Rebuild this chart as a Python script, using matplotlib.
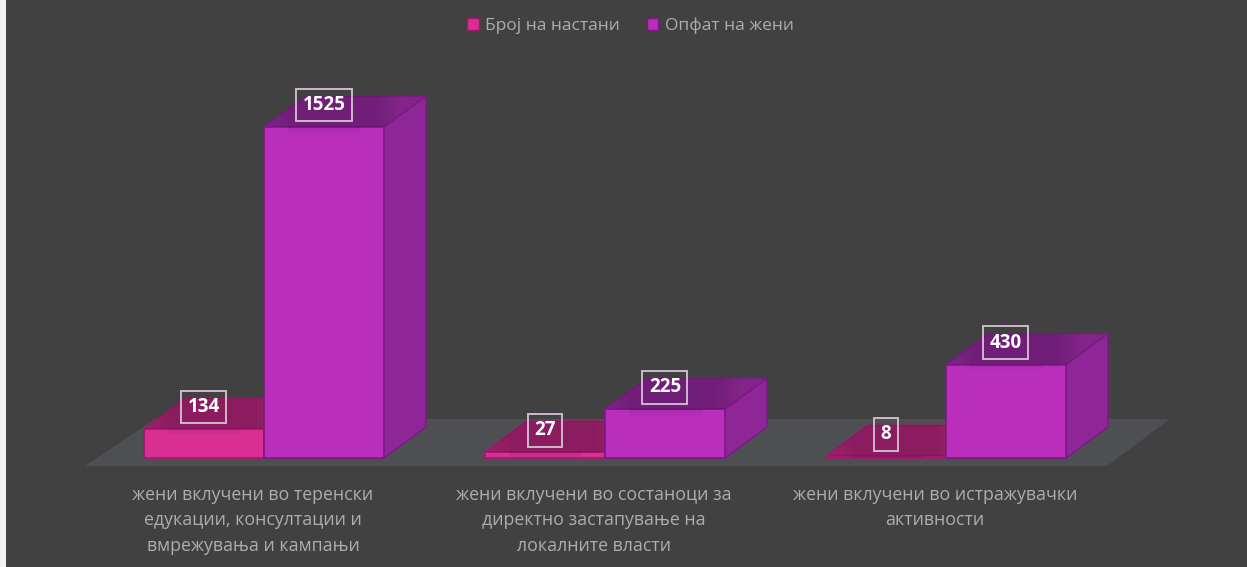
import matplotlib

matplotlib.use("Agg")
import matplotlib.pyplot as plt
from matplotlib.patches import Polygon, Rectangle


CATEGORIES = [
    "жени вклучени во теренски\nедукации, консултации и\nвмрежувања и кампањи",
    "жени вклучени во состаноци за\nдиректно застапување на\nлокалните власти",
    "жени вклучени во истражувачки\nактивности",
]
SERIES_NAMES = ["Број на настани", "Опфат на жени"]
EVENTS = [134, 27, 8]
WOMEN = [1525, 225, 430]

BG = "#414141"
FLOOR = "#4e4f52"
TEXT = "#adadad"
PINK = {"front": "#d92f93", "top": "#a02270", "side": "#9c1f6c", "edge": "#a0186c"}
PURPLE = {"front": "#b92fbc", "top": "#82248a", "side": "#8f2698", "edge": "#7b1a85"}

# one x unit is one category spacing, y is in chart values
BAR_W = 0.352
DX = 0.123
DY = 143


def draw_bar(ax, x, value, colors):
    edge = colors["edge"]
    top = [(x, value), (x + BAR_W, value), (x + BAR_W + DX, value + DY), (x + DX, value + DY)]
    side = [(x + BAR_W, 0), (x + BAR_W + DX, DY), (x + BAR_W + DX, value + DY), (x + BAR_W, value)]
    ax.add_patch(Polygon(side, fc=colors["side"], ec=edge, lw=1.0, joinstyle="round"))
    top_patch = Polygon(top, fc=colors["top"], ec=edge, lw=1.0, joinstyle="round")
    ax.add_patch(top_patch)
    front = Rectangle((x, 0), BAR_W, value, fc=colors["front"], ec=edge, lw=1.2)
    ax.add_patch(front)

    # soft shadow the label throws on the bar
    for k in range(6):
        grow = k * 0.012
        shade = Rectangle(
            (x + 0.07 - grow, value - 20 - k * 12),
            BAR_W - 0.09 + 2 * grow,
            DY + 20 + 2 * k * 12,
            fc="black", ec="none", alpha=0.018, zorder=front.get_zorder(),
        )
        ax.add_patch(shade)
        shade.set_clip_path(top_patch)
    for k in range(3):
        shade = Rectangle(
            (x + 0.07, value - 30 + k * 9), BAR_W - 0.14, 30 - k * 9,
            fc="black", ec="none", alpha=0.02,
        )
        ax.add_patch(shade)
        shade.set_clip_path(front)


def value_label(ax, x, value, text):
    ax.text(
        x + BAR_W / 2,
        value + 101,
        text,
        ha="center",
        va="center",
        color="white",
        fontsize=13.5,
        fontweight="bold",
        family="Open Sans",
        zorder=6,
        bbox=dict(boxstyle="square,pad=0.34", fc="none", ec="#cdb9cd", lw=1.4),
    )


def main():
    fig = plt.figure(figsize=(12.47, 5.67), dpi=100, facecolor=BG)
    ax = fig.add_axes([0, 0, 1, 1])
    ax.set_xlim(-0.774, 2.883)
    ax.set_ylim(-502, 2110)
    ax.axis("off")

    # floor
    ax.add_patch(Polygon(
        [(-0.525, -37), (2.472, -37), (2.657, 180), (-0.32, 180)],
        fc=FLOOR, ec="none", zorder=0,
    ))

    for i in range(len(CATEGORIES)):
        draw_bar(ax, i - BAR_W, EVENTS[i], PINK)
        draw_bar(ax, i, WOMEN[i], PURPLE)
        value_label(ax, i - BAR_W, EVENTS[i], str(EVENTS[i]))
        value_label(ax, i, WOMEN[i], str(WOMEN[i]))
        ax.text(
            i - 0.032, -127, CATEGORIES[i],
            ha="center", va="top", color=TEXT, fontsize=12.75,
            family="Open Sans", linespacing=1.54,
        )

    handles = [
        Rectangle((0, 0), 1, 1, fc=PINK["front"], ec=PINK["edge"]),
        Rectangle((0, 0), 1, 1, fc=PURPLE["front"], ec=PURPLE["edge"]),
    ]
    leg = fig.legend(
        handles, SERIES_NAMES,
        loc="upper center", bbox_to_anchor=(0.5055, 0.997), ncol=2, frameon=False,
        prop={"family": "Open Sans", "size": 12.5},
        handlelength=0.65, handleheight=0.65, handletextpad=0.35, columnspacing=1.6,
    )
    for t in leg.get_texts():
        t.set_color(TEXT)

    # light strip down the left side of the source image
    fig.add_artist(Rectangle(
        (0, 0), 5.5 / 1247, 1, transform=fig.transFigure, fc="#f2f2f2", ec="none",
    ))

    fig.savefig("out.png", dpi=100, facecolor=BG)
    plt.close(fig)


if __name__ == "__main__":
    main()
